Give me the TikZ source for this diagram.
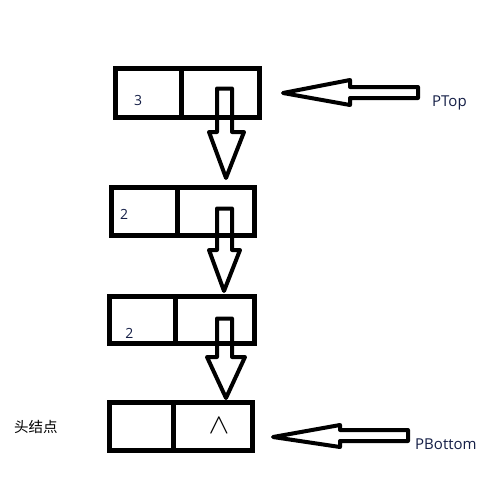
\documentclass[tikz,border=0pt]{standalone}
\usepackage{fontspec}
\usepackage{graphicx}
\setmainfont{Open Sans}
\newfontfamily\cjkfont{Noto Sans CJK SC}
\definecolor{txt}{RGB}{20,30,70}
\begin{document}
\begin{tikzpicture}[x=1pt,y=-1pt,
  cell/.style={draw=black,line width=5pt,rectangle,inner sep=0pt,outer sep=0pt},
  divider/.style={draw=black,line width=5pt},
  blockarrow/.style={draw=black,line width=4pt,line join=round},
  val/.style={inner sep=0pt,text=txt,font=\fontsize{14}{16}\selectfont},
  lbl/.style={inner sep=0pt,text=txt,font=\fontsize{15}{18}\selectfont,anchor=base west}]
\useasboundingbox (0,0) rectangle (497,479);
% list cells
\node[cell,minimum width=144pt,minimum height=48.5pt] (b1) at (187.5,92.75) {};
\node[cell,minimum width=143pt,minimum height=48pt] (b2) at (183,211.5) {};
\node[cell,minimum width=145pt,minimum height=47pt] (b3) at (182,320) {};
\node[cell,minimum width=143pt,minimum height=48pt] (b4) at (181,426.5) {};
% dividers
\draw[divider] (181,68.5) -- (181,117);
\draw[divider] (177,187.5) -- (177,235.5);
\draw[divider] (175,296.5) -- (175,343.5);
\draw[divider] (173,402.5) -- (173,450.5);
% values
\node[val] (v1) at (138,100.5) {3};
\node[val] (v2) at (124,214) {2};
\node[val] (v3) at (129.5,333) {2};
\node[inner sep=0pt,text=black] (nil) at (219,425.5) {\scalebox{3.1}[2.8]{$\wedge$}};
% down arrows
\draw[blockarrow] (217,88.5) -- (232,88.5) -- (232,132) -- (244,132) -- (226,178) -- (209,132) -- (217,132) -- cycle;
\draw[blockarrow] (217,208.5) -- (232,208.5) -- (232,250) -- (240,250) -- (224,291) -- (209,250) -- (217,250) -- cycle;
\draw[blockarrow] (217,318.5) -- (232,318.5) -- (232,357) -- (245,357) -- (226,398) -- (207,357) -- (217,357) -- cycle;
% pointer arrows
\draw[blockarrow] (418,87) -- (350,87) -- (350,80) -- (283,93) -- (350,105) -- (350,98) -- (418,98) -- cycle;
\draw[blockarrow] (408,430) -- (340,430) -- (340,425) -- (273,437) -- (340,447) -- (340,441) -- (408,441) -- cycle;
% labels
\node[lbl] (ptop) at (432,106) {PTop};
\node[lbl] (pbottom) at (415,449) {PBottom};
\node[inner sep=0pt,anchor=base west,text=black,font=\fontsize{14.5}{17}\selectfont\cjkfont] (head) at (14,432) {头结点};
\end{tikzpicture}
\end{document}
